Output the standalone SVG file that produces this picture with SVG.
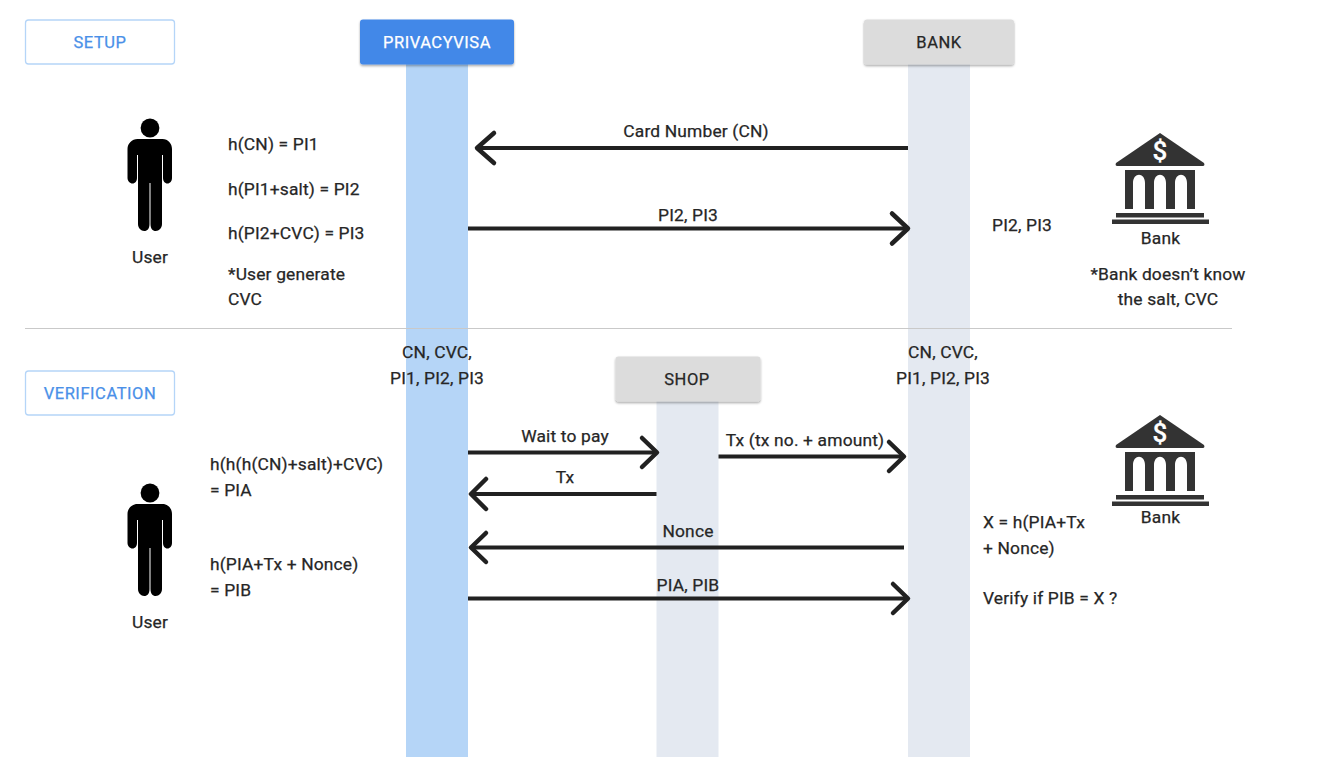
<svg xmlns="http://www.w3.org/2000/svg" width="1343" height="783" viewBox="0 0 1343 783">
<style>
text{font-family:Roboto,"Liberation Sans",sans-serif;font-size:17.4px;fill:#262626;letter-spacing:.16px;stroke:#262626;stroke-width:.25}
.m{text-anchor:middle}
.h{text-anchor:middle;font-size:16.5px;letter-spacing:.55px}
.tag{fill:#fff;stroke:#b5d5f8;stroke-width:1.3}
.grey{fill:#dcdcdc}
.lane{fill:#e4e9f1}
.blue{fill:#b5d5f7}
.c{fill:none;stroke:#212121;stroke-width:4.500;stroke-linecap:round;stroke-linejoin:round}
.l{fill:none;stroke:#212121;stroke-width:4}
.b{fill:#333}
</style>
<defs>
<filter id="s" x="-10%" y="-20%" width="120%" height="150%"><feDropShadow dx="0" dy="1.5" stdDeviation="1.2" flood-color="#000" flood-opacity=".35"/></filter>
<g id="person">
<circle cx="150" cy="128" r="9.4" fill="#000"/>
<path fill="#000" d="M137.500 139H162.500C168 139 172 143.500 172 149V178C172 181 170 183.500 167.500 183.500C164.800 183.500 163 181 163 178V155H162V224C162 228 159 231 155.800 231C152.500 231 150.500 228.500 150.500 224V183H149.500V224C149.500 228.500 147.500 231 144.200 231C141 231 138 228 138 224V155H137V178C137 181 135.200 183.500 132.500 183.500C130 183.500 127.500 181 127.500 178V149C127.500 143.500 132 139 137.500 139Z"/>
</g>
<g id="bank">
<path class="b" d="M1160 133L1204 163C1205 165 1204 166 1203 166H1117C1116 166 1115 165 1116 163Z"/>
<path class="b" d="M1125 170H1195V209H1187V183C1187 172 1175 172 1175 183V209H1166V183C1166 172 1154 172 1154 183V209H1145V183C1145 172 1133 172 1133 183V209H1125Z"/>
<rect class="b" x="1116" y="213" width="88" height="4.500"/>
<rect class="b" x="1112" y="219.500" width="97" height="4.500"/>
<text x="1160" y="160" text-anchor="middle" style="font-size:26px;fill:#fff;stroke:#fff;font-weight:500">$</text>
</g>
</defs>

<g id="lanes">
<rect class="blue" x="406" y="60" width="62" height="697"/>
<rect class="lane" x="908" y="60" width="62" height="697"/>
<rect class="lane" x="656.500" y="398" width="62" height="359"/>
</g>

<line id="divider" x1="25" y1="328.500" x2="1232" y2="328.500" stroke="#c9c9c9" stroke-width="1"/>

<g id="setup"><rect class="tag" x="25.500" y="20" width="149" height="44" rx="3"/><text class="h" x="100" y="47.500" style="fill:#4a90e8;stroke:#4a90e8">SETUP</text></g>
<g id="verification"><rect class="tag" x="25.500" y="371" width="149" height="44" rx="3"/><text class="h" x="100" y="398.500" style="fill:#4a90e8;stroke:#4a90e8">VERIFICATION</text></g>
<g id="privacyvisa"><rect x="360" y="19.500" width="154" height="45" rx="3" fill="#4288e8" filter="url(#s)"/><text class="h" x="437" y="47.500" style="fill:#fff;stroke:#fff">PRIVACYVISA</text></g>
<g id="bank-head"><rect class="grey" x="864" y="19.500" width="150" height="45" rx="3" filter="url(#s)"/><text class="h" x="939" y="47.500">BANK</text></g>
<g id="shop"><rect class="grey" x="615.500" y="356.500" width="145" height="45" rx="3" filter="url(#s)"/><text class="h" x="687" y="384.500">SHOP</text></g>

<g id="connectors">
<path class="l" d="M908 148H478"/><path class="c" d="M494 133L477 148L494 163"/>
<path class="l" d="M468 228.500H908"/><path class="c" d="M892 213.500L908 228.500L892 243.500"/>
<path class="l" d="M468 452.500H657"/><path class="c" d="M642 438L657 452.500L642 467"/>
<path class="l" d="M718.500 456.500H904"/><path class="c" d="M889 442L904 456.500L889 471"/>
<path class="l" d="M656.500 494H471"/><path class="c" d="M486 479L471 494L486 509"/>
<path class="l" d="M904 547.500H471"/><path class="c" d="M486 533L471 547.500L486 562"/>
<path class="l" d="M468 598.500H908"/><path class="c" d="M893 584L908 598.500L893 613"/>
</g>

<g id="user-setup"><use href="#person"/><text class="m" x="150" y="262.500">User</text></g>
<g id="user-verify"><use href="#person" y="365"/><text class="m" x="150" y="627.500">User</text></g>
<g id="bank-setup"><use href="#bank"/><text class="m" x="1160.500" y="244">Bank</text></g>
<g id="bank-verify"><use href="#bank" y="282"/><text class="m" x="1160.500" y="523">Bank</text></g>

<g id="labels">
<text x="228" y="150">h(CN) = PI1</text>
<text x="228" y="194.500">h(PI1+salt) = PI2</text>
<text x="228" y="239">h(PI2+CVC) = PI3</text>
<text x="228" y="279.500">*User generate</text>
<text x="228" y="305">CVC</text>
<text class="m" x="696" y="137">Card Number (CN)</text>
<text class="m" x="688" y="220.500">PI2, PI3</text>
<text x="992" y="231">PI2, PI3</text>
<text class="m" x="1168" y="279.500">*Bank doesn’t know</text>
<text class="m" x="1168" y="305">the salt, CVC</text>
<text class="m" x="437" y="358">CN, CVC,</text>
<text class="m" x="437" y="384">PI1, PI2, PI3</text>
<text class="m" x="943" y="358">CN, CVC,</text>
<text class="m" x="943" y="384">PI1, PI2, PI3</text>
<text class="m" x="565" y="442">Wait to pay</text>
<text class="m" x="805" y="446">Tx (tx no. + amount)</text>
<text class="m" x="565" y="483">Tx</text>
<text class="m" x="688" y="537">Nonce</text>
<text class="m" x="688" y="590.500">PIA, PIB</text>
<text x="210" y="470">h(h(h(CN)+salt)+CVC)</text>
<text x="210" y="496">= PIA</text>
<text x="210" y="570">h(PIA+Tx + Nonce)</text>
<text x="210" y="596">= PIB</text>
<text x="983" y="528">X = h(PIA+Tx</text>
<text x="983" y="554">+ Nonce)</text>
<text x="983" y="604">Verify if PIB = X ?</text>
</g>
</svg>
